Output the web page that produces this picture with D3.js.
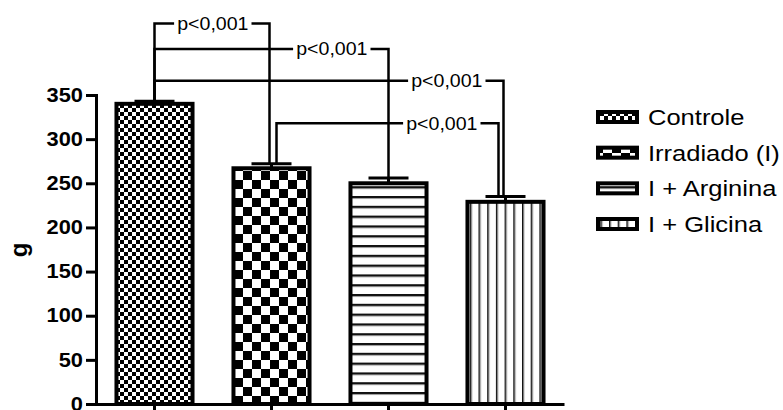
<!DOCTYPE html>
<html>
<head>
<meta charset="utf-8">
<script src="https://cdn.jsdelivr.net/npm/d3@7"></script>
<style>
  html, body { margin: 0; padding: 0; background: #fff; }
  svg { display: block; font-family: "Liberation Sans", Arial, sans-serif; }
</style>
</head>
<body>
<svg id="chart" width="783" height="410"></svg>
<script>
// Body weight (g) per group: mean and SEM
const groups = ["Controle", "Irradiado (I)", "I + Arginina", "I + Glicina"];
const means = [340, 267, 250, 229];
const sems = [3, 5, 6, 6];
const yTicks = [0, 50, 100, 150, 200, 250, 300, 350];

// Pairwise comparisons shown as brackets
const compFrom = [0, 0, 0, 1];
const compTo = [1, 2, 3, 3];
const compLabels = ["p<0,001", "p<0,001", "p<0,001", "p<0,001"];

const svg = d3.select("#chart");
const SX = 1.12; // horizontal text stretch

const x = d3.scaleBand().domain(groups).range([96, 564])
  .paddingInner(0.35).paddingOuter(0.175);
const y = d3.scaleLinear().domain([0, 350]).range([404, 95]);

// ---- fill patterns ----
const defs = svg.append("defs");
function pattern(id, w, h) {
  const p = defs.append("pattern").attr("id", id)
    .attr("patternUnits", "userSpaceOnUse").attr("width", w).attr("height", h);
  p.append("rect").attr("width", w).attr("height", h).attr("fill", "#fff");
  return p;
}
const pf = pattern("checkFine", 8, 8);
pf.append("rect").attr("x", 0).attr("y", 0).attr("width", 4).attr("height", 4).attr("fill", "#000");
pf.append("rect").attr("x", 4).attr("y", 4).attr("width", 4).attr("height", 4).attr("fill", "#000");

const pc = pattern("checkCoarse", 18, 18);
pc.append("rect").attr("x", 0).attr("y", 0).attr("width", 9).attr("height", 9).attr("fill", "#000");
pc.append("rect").attr("x", 9).attr("y", 9).attr("width", 9).attr("height", 9).attr("fill", "#000");

const ph = pattern("hLines", 10, 9.8);
ph.append("rect").attr("x", 0).attr("y", 0).attr("width", 10).attr("height", 2).attr("fill", "#111");
ph.append("rect").attr("x", 0).attr("y", 2).attr("width", 10).attr("height", 1).attr("fill", "#999");

const pv = pattern("vLines", 8.7, 10);
pv.append("rect").attr("x", 0).attr("y", 0).attr("width", 1.6).attr("height", 10).attr("fill", "#111");
pv.append("rect").attr("x", 1.6).attr("y", 0).attr("width", 0.8).attr("height", 10).attr("fill", "#aaa");

const fills = ["url(#checkFine)", "url(#checkCoarse)", "url(#hLines)", "url(#vLines)"];

// ---- bars ----
svg.append("g").selectAll("rect").data(groups).join("rect")
  .attr("x", d => x(d))
  .attr("y", (d, i) => y(means[i]))
  .attr("width", x.bandwidth())
  .attr("height", (d, i) => y(0) - y(means[i]))
  .attr("fill", (d, i) => fills[i])
  .attr("stroke", "#000").attr("stroke-width", 4);

// ---- error bars (upper only) ----
const eb = svg.append("g").attr("stroke", "#000").attr("stroke-width", 3);
groups.forEach((g, i) => {
  const cx = x(g) + x.bandwidth() / 2;
  eb.append("line").attr("x1", cx).attr("x2", cx)
    .attr("y1", y(means[i])).attr("y2", y(means[i] + sems[i]));
  eb.append("line").attr("x1", cx - 20).attr("x2", cx + 20)
    .attr("y1", y(means[i] + sems[i])).attr("y2", y(means[i] + sems[i]));
});

// ---- axes ----
const yAxis = svg.append("g").attr("transform", "translate(96,0)")
  .call(d3.axisLeft(y).tickValues(yTicks).tickSize(10).tickSizeOuter(0).tickPadding(3));
yAxis.select(".domain").attr("stroke-width", 3).attr("stroke-linecap", "square");
yAxis.selectAll(".tick line").attr("stroke-width", 3);
yAxis.selectAll(".tick text")
  .attr("font-family", "Liberation Sans, Arial, sans-serif")
  .attr("font-size", 19.5).attr("font-weight", "bold").attr("fill", "#000")
  .attr("x", -13 / SX).attr("transform", `scale(${SX},1)`);

const xAxis = svg.append("g").attr("transform", "translate(0,404)")
  .call(d3.axisBottom(x).tickSize(8).tickSizeOuter(0).tickFormat(""));
xAxis.select(".domain").attr("stroke-width", 3);
xAxis.selectAll(".tick line").attr("stroke-width", 3);

// y-axis title
svg.append("text")
  .attr("transform", "translate(27,250) rotate(-90)")
  .attr("text-anchor", "middle")
  .attr("font-size", 24).attr("font-weight", "bold")
  .text("g");

// ---- significance brackets ----
const bracketLevel = [431, 402, 366, 318];       // height of each bracket, in g
const endShift = [[0, -2], [0, 0], [0, -2], [5, -7]]; // horizontal nudges of bracket ends
const br = svg.append("g");
compFrom.forEach((a, k) => {
  const b = compTo[k];
  const x1 = x(groups[a]) + x.bandwidth() / 2 + endShift[k][0];
  const x2 = x(groups[b]) + x.bandwidth() / 2 + endShift[k][1];
  const ly = y(bracketLevel[k]);
  const fs = 17.5;
  const t = br.append("text")
    .attr("font-size", fs).attr("fill", "#000")
    .attr("text-anchor", "end")
    .text(compLabels[k]);
  const tw = t.node().getComputedTextLength() * SX;
  const tEnd = x2 - 21;
  const tStart = tEnd - tw;
  t.attr("transform", `translate(${tEnd},${ly + fs * 0.36}) scale(${SX},1)`);
  const path = d3.path();
  path.moveTo(x1, y(means[a] + sems[a]));
  path.lineTo(x1, ly);
  path.lineTo(tStart - 3, ly);
  path.moveTo(tEnd + 3, ly);
  path.lineTo(x2, ly);
  path.lineTo(x2, y(means[b] + sems[b]));
  br.append("path").attr("d", path.toString())
    .attr("fill", "none").attr("stroke", "#000").attr("stroke-width", 2.5);
});

// ---- legend ----
const legendRowY = d3.scalePoint().domain(groups).range([117, 224]);
const lg = svg.append("g");
groups.forEach((g, i) => {
  const cy = legendRowY(g);
  lg.append("rect").attr("x", 598).attr("y", cy - 5).attr("width", 39).attr("height", 10)
    .attr("fill", fills[i]).attr("stroke", "#000").attr("stroke-width", 4);
  lg.append("text")
    .attr("transform", `translate(648,${cy + 22 * 0.36}) scale(1.16,1)`)
    .attr("font-size", 22).attr("fill", "#000")
    .text(g);
});
</script>
</body>
</html>
